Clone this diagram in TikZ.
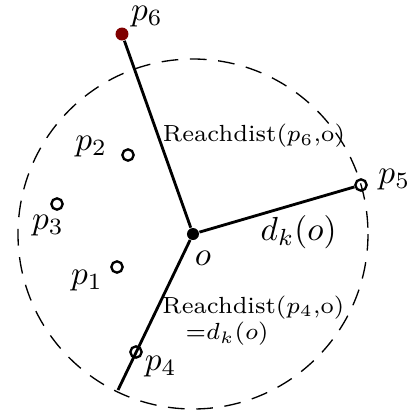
\documentclass[tikz,border=0pt]{standalone}
\usepackage{amsmath}
\definecolor{pointred}{RGB}{128,0,0}

\begin{document}
\begin{tikzpicture}[x=0.3pt, y=-0.3pt,
  pt/.style={circle, draw=black, line width=0.7pt, inner sep=0pt, minimum size=3.4pt},
  ctr/.style={circle, fill=black, inner sep=0pt, minimum size=3.6pt},
  far/.style={circle, fill=pointred, inner sep=0pt, minimum size=3.9pt},
  ray/.style={line width=0.85pt},
  every label/.style={inner sep=1pt},
  reach/.style={font=\scriptsize, inner sep=1pt}]
  \useasboundingbox (0,0) rectangle (406,415);

  \node[ctr, label={[label distance=2pt, xshift=3pt]below:$o$}] (o) at (193,234) {};
  \node[far, label={[label distance=0pt, yshift=-0.5pt]above right:$p_6$}] (p6) at (122,34) {};
  \node[pt, label={[label distance=3pt, yshift=2.4pt]left:$p_2$}] (p2) at (128,155) {};
  \node[pt, label={[xshift=-2.7pt]below:$p_3$}] (p3) at (57,204) {};
  \node[pt, label={[label distance=1pt, yshift=-4pt]left:$p_1$}] (p1) at (117,267) {};
  \node[pt, label={[label distance=2pt, yshift=1.5pt]right:$p_5$}] (p5) at (361,185) {};
  \coordinate (e4) at (118,390);

  % k-distance neighbourhood of o
  \draw[line width=0.4pt, dash pattern=on 5pt off 3.5pt] (o.center) circle[radius=175];

  % o -> p6
  \draw[ray] (o) -- node[reach, pos=0.49, anchor=west] {Reachdist($p_6$,o)} (p6);

  % o -> p5
  \draw[ray] (o) -- node[pos=0.64, below=0pt] {$d_k(o)$} (p5);

  % o -> p4 (on to the circle)
  \draw[ray] (o) -- node[reach, pos=0.45, anchor=north west, align=left, yshift=5pt] {Reachdist($p_4$,o)\\ \quad=$d_k(o)$} (e4);
  \node[pt, label={[yshift=1.5pt]below right:$p_4$}] (p4) at (136,352) {};
\end{tikzpicture}
\end{document}
